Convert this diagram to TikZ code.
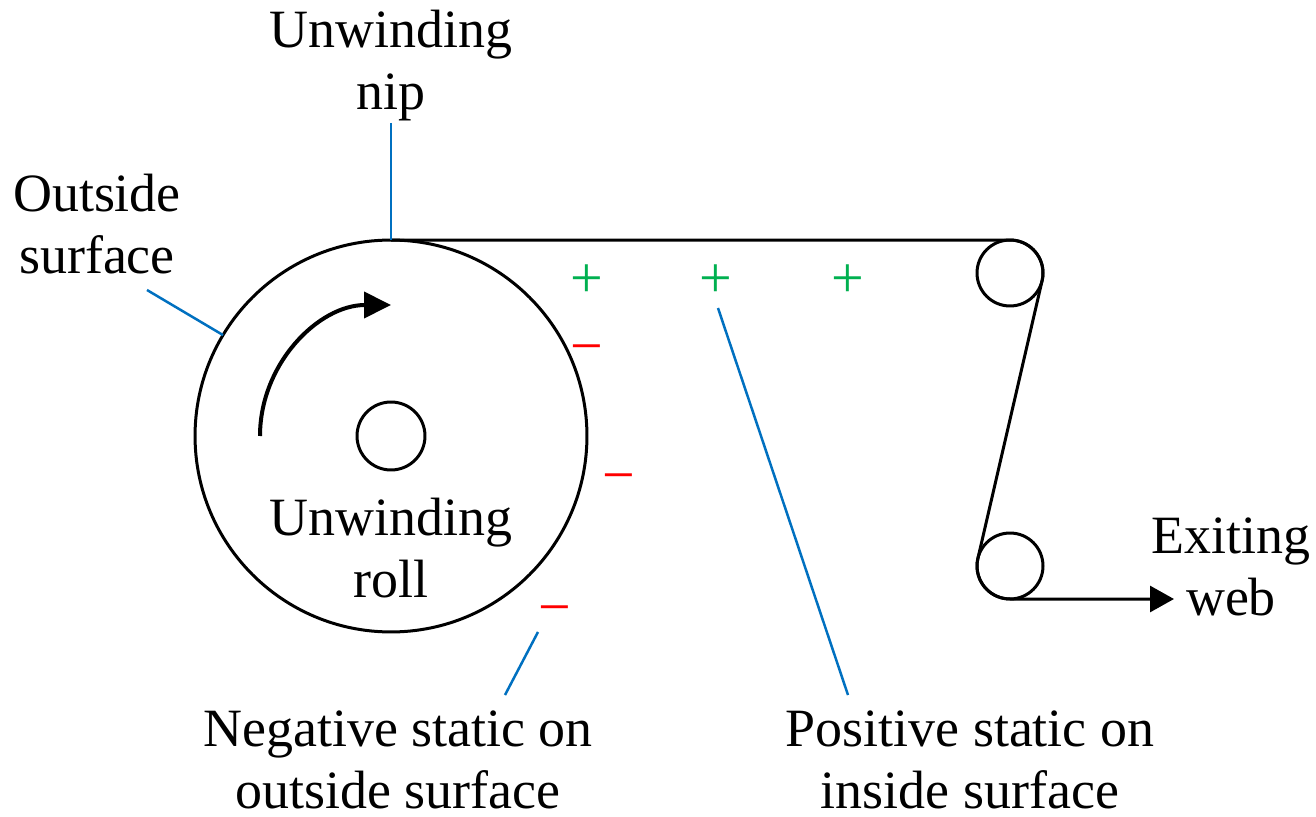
\documentclass[tikz,border=0pt]{standalone}
\usepackage{fontspec}
\setmainfont{Liberation Serif}
\usetikzlibrary{arrows.meta, positioning, calc}
\definecolor{leadblue}{HTML}{0070C0}
\definecolor{plusgreen}{HTML}{00B050}

\begin{document}
\begin{tikzpicture}[x=0.02cm, y=0.02cm, line width=0.06cm,
  font=\fontsize{30.7}{35.3}\selectfont,
  roll/.style={draw, circle, inner sep=0pt, outer sep=0pt},
  lead/.style={leadblue, line width=0.05cm},
  lbl/.style={align=center, inner sep=0pt},
  charge/.style={inner sep=0pt, font=\fontsize{33}{36}\selectfont}]
  \useasboundingbox (0,0) rectangle (1316,816);

  % Unwinding roll
  \node[roll, minimum size=7.84cm] (unroll) at (391,380) {};
  \node[roll, minimum size=1.36cm] (core) at (391,380) {};
  \draw[line width=0.08cm, -{Triangle[length=0.54cm, width=0.52cm]}]
    (260,380) arc[start angle=180, end angle=90, radius=131];
  \node[lbl] (rolllbl) at (391,268) {Unwinding\\roll};

  % Idlers
  \node[roll, minimum size=1.32cm] (topidler) at (1010,543) {};
  \node[roll, minimum size=1.32cm] (botidler) at (1010,250) {};

  % Web
  \coordinate (webend) at (1174,217);
  \draw[-{Triangle[length=0.48cm, width=0.52cm]}] (unroll.north) -- (topidler.north)
    arc[start angle=90, end angle=-13, radius=33] -- (botidler.167)
    arc[start angle=167, end angle=270, radius=33] -- (webend);
  \node[lbl] (exitlbl) at (1231,249) {Exiting\\web};

  % Charges
  \foreach \x in {587,716,848}
    \node[charge, plusgreen] (plus\x) at (\x,535) {+};
  \node[charge, red] (minusa) at (587,461) {−};
  \node[charge, red] (minusb) at (619,332) {−};
  \node[charge, red] (minusc) at (555,200) {−};

  % Labels with leaders
  \node[lbl] (niplbl) at (391,750) {Unwinding\\nip};
  \draw[lead] (niplbl.south) -- (unroll.north);

  \node[lbl] (outlbl) at (97,592) {Outside\\surface};
  \coordinate (outfoot) at (147,526);
  \draw[lead] (outfoot) -- (unroll.149);

  \node[lbl] (neglbl) at (398,56) {Negative static on\\outside surface};
  \coordinate (negtip) at (538,184);
  \coordinate (negfoot) at (505,121);
  \draw[lead] (negtip) -- (negfoot);

  \node[lbl] (poslbl) at (970,56) {Positive static on\\inside surface};
  \coordinate (postip) at (718,508);
  \coordinate (posfoot) at (848,121);
  \draw[lead] (postip) -- (posfoot);
\end{tikzpicture}
\end{document}
